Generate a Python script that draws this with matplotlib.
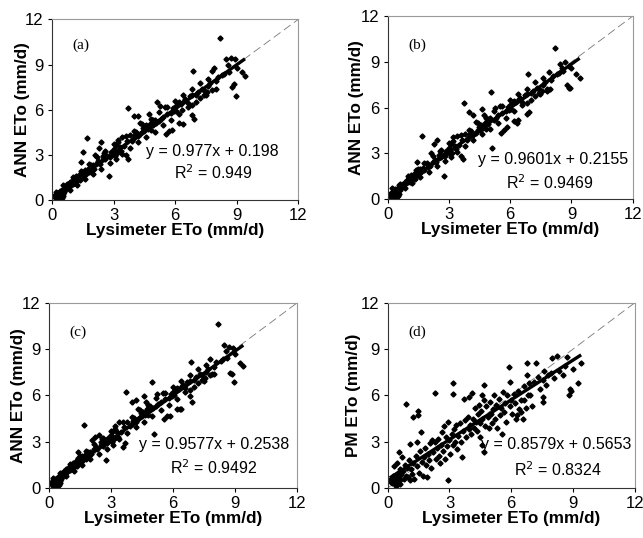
"""
plot.py
-------

Scatter comparison of ANN / PM ETo against lysimeter ETo, four panels.
"""

import numpy as np
import matplotlib
matplotlib.use("Agg")
import matplotlib.pyplot as plt


plt.rcParams["font.family"] = ["Liberation Sans", "DejaVu Sans"]

# --------------------------------------------
# Data
# --------------------------------------------

lys_x = [
    0.10, 0.15, 0.18, 0.20, 0.22, 0.25, 0.28, 0.30, 0.32, 0.35, 0.38, 0.40, 0.42,
    0.45, 0.48, 0.50, 0.52, 0.55, 0.58, 0.60, 0.62, 0.65, 0.30, 0.40, 0.20, 0.35,
    0.70, 0.75, 0.80, 0.85, 0.90, 0.95, 1.00, 1.05, 1.10, 1.15, 1.20, 1.25, 1.30,
    1.35, 1.40, 1.43, 1.45, 1.50, 1.55, 1.60, 1.65, 1.70, 1.75, 1.80, 1.90, 1.95,
    2.00, 2.05, 2.10, 2.20, 2.25, 2.30, 2.35, 2.40, 2.50, 2.55, 2.60, 2.70, 2.75,
    2.80, 2.85, 2.90, 3.00, 3.05, 3.10, 3.15, 3.20, 3.30, 3.35, 3.40, 3.50, 3.60,
    3.65, 3.70, 3.80, 3.90, 3.72,
    4.00, 4.00, 4.05, 4.10, 4.20, 4.20, 4.30, 4.30, 4.40, 4.45, 4.50, 4.55, 4.60,
    4.65, 4.70, 4.70, 4.75, 4.80, 4.85, 4.90, 5.00, 5.05, 5.10, 5.20, 5.25, 5.30,
    5.40, 5.50, 5.55, 5.60, 5.70, 5.80, 5.85, 5.90, 5.95,
    6.00, 6.05, 6.10, 6.20, 6.20, 6.30, 6.34, 6.40, 6.45, 6.50, 6.60, 6.70, 6.80,
    6.83, 6.85, 6.90, 7.00, 7.10, 7.20, 7.30, 7.40, 7.48, 7.56, 7.60, 7.70, 7.80,
    7.90, 7.97, 8.00, 6.83,
    8.10, 8.20, 8.30, 8.46, 8.55, 8.70, 8.78, 8.86, 8.90, 8.94, 9.00, 9.24, 9.40,
    8.60, 8.40,
    0.55, 0.85, 1.00, 1.20, 1.40, 1.60, 1.80, 2.00, 2.20, 2.40, 2.60, 2.80, 3.00,
    3.10, 3.20, 3.40, 3.60, 3.80, 4.00, 4.20, 4.40, 4.60, 4.80, 5.00, 5.20, 5.40,
    5.60, 5.80, 6.00, 6.20, 6.40, 6.60, 6.80, 7.00, 7.20, 7.40, 7.60, 7.80, 2.50,
    4.90,
]

ann_a = [
    0.25, 0.30, 0.12, 0.40, 0.05, 0.35, 0.15, 0.50, 0.10, 0.20, 0.60, 0.08, 0.30,
    0.45, 0.15, 0.70, 0.40, 0.25, 0.80, 0.55, 0.90, 0.65, 0.02, 0.00, 0.55, 0.42,
    0.85, 1.05, 0.90, 1.20, 1.00, 1.30, 1.10, 1.45, 1.15, 1.60, 1.30, 1.40, 1.70,
    1.35, 1.55, 2.54, 1.90, 3.20, 1.65, 2.00, 1.75, 4.10, 2.10, 1.85, 2.30, 2.00,
    2.30, 2.10, 3.00, 2.45, 2.60, 3.47, 2.40, 3.86, 2.75, 3.10, 2.70, 2.95, 1.60,
    2.85, 3.20, 3.05, 3.40, 2.90, 3.65, 3.10, 4.00, 3.55, 3.25, 4.20, 3.60, 2.98,
    3.90, 2.70, 4.30, 3.95, 6.10,
    5.60, 4.10, 4.30, 4.50, 5.60, 4.25, 5.10, 4.40, 4.55, 4.80, 4.60, 4.90, 5.00,
    4.70, 5.70, 4.85, 5.05, 4.65, 5.20, 5.00, 5.35, 5.15, 6.50, 5.25, 6.25, 5.40,
    5.55, 6.20, 4.40, 5.70, 4.60, 5.80, 4.64, 6.10, 5.90,
    6.20, 5.95, 6.30, 5.14, 6.50, 6.40, 5.96, 5.08, 6.60, 6.70, 6.45, 6.90, 6.95,
    5.63, 8.54, 5.40, 7.00, 7.20, 6.80, 7.40, 7.30, 6.95, 7.17, 7.60, 7.75, 8.60,
    8.76, 7.35, 7.90, 6.34,
    8.20, 10.77, 8.30, 9.38, 8.98, 9.43, 7.50, 7.73, 9.38, 6.90, 8.80, 8.50, 8.23,
    8.50, 8.40,
    1.00, 0.70, 1.55, 1.00, 1.95, 1.40, 2.40, 1.75, 2.85, 2.10, 3.25, 2.45, 3.70,
    2.70, 3.85, 3.05, 4.25, 3.45, 4.60, 3.85, 5.05, 4.20, 5.40, 4.55, 5.85, 5.00,
    6.15, 5.35, 6.55, 5.75, 7.00, 6.15, 7.35, 6.50, 7.75, 6.95, 8.05, 7.30, 2.95,
    5.30,
]

ann_b = [
    0.30, 0.20, 0.15, 0.45, 0.08, 0.40, 0.10, 0.55, 0.05, 0.25, 0.65, 0.12, 0.35,
    0.40, 0.20, 0.75, 0.35, 0.30, 0.85, 0.60, 1.00, 0.70, 0.05, 0.02, 0.70, 0.40,
    0.90, 1.00, 0.95, 1.15, 1.05, 1.25, 1.15, 1.40, 1.10, 1.55, 1.35, 1.45, 1.65,
    1.30, 1.60, 2.40, 1.85, 2.00, 1.70, 1.95, 1.80, 4.11, 2.05, 1.90, 2.35, 2.10,
    2.25, 2.15, 3.05, 2.40, 3.58, 2.55, 2.45, 3.85, 2.70, 3.15, 2.75, 2.90, 1.51,
    2.80, 3.15, 3.10, 3.35, 2.95, 3.60, 3.05, 4.05, 3.50, 3.30, 4.15, 3.55, 2.82,
    3.85, 2.65, 4.25, 3.90, 6.30,
    5.70, 4.05, 4.25, 4.45, 5.50, 4.20, 5.05, 4.35, 4.50, 4.75, 4.55, 4.85, 5.90,
    4.65, 5.50, 4.80, 5.00, 4.60, 5.15, 4.95, 5.30, 7.00, 3.38, 5.20, 6.00, 5.35,
    5.50, 6.10, 4.35, 5.65, 4.55, 5.75, 4.70, 6.05, 5.85,
    6.15, 5.90, 6.25, 5.10, 6.45, 6.35, 5.00, 5.20, 6.55, 6.65, 6.40, 6.85, 6.90,
    5.60, 8.20, 5.70, 6.95, 7.10, 6.75, 7.30, 7.25, 6.90, 7.10, 7.50, 7.65, 7.10,
    8.33, 7.20, 7.80, 6.30,
    8.10, 9.90, 8.20, 8.87, 8.60, 8.98, 7.45, 7.28, 8.70, 7.30, 8.60, 8.20, 7.95,
    8.40, 8.30,
    0.95, 0.75, 1.50, 1.05, 1.90, 1.45, 2.35, 1.80, 2.80, 2.15, 3.20, 2.50, 3.65,
    2.75, 3.80, 3.10, 4.20, 3.50, 4.55, 3.90, 5.00, 4.25, 5.35, 4.60, 5.80, 5.00,
    6.10, 5.35, 6.50, 5.75, 6.90, 6.15, 7.25, 6.50, 7.65, 6.95, 7.95, 7.25, 2.90,
    5.25,
]

ann_c = [
    0.35, 0.25, 0.20, 0.50, 0.10, 0.45, 0.20, 0.60, 0.15, 0.30, 0.65, 0.10, 0.40,
    0.50, 0.20, 0.80, 0.45, 0.30, 0.85, 0.60, 0.95, 0.70, 0.05, 0.02, 0.65, 0.50,
    0.95, 1.10, 0.90, 1.25, 1.05, 1.35, 1.15, 1.50, 1.20, 1.60, 1.35, 1.45, 1.75,
    1.40, 1.60, 2.30, 1.95, 2.10, 1.70, 2.05, 1.80, 4.09, 2.15, 1.90, 2.35, 2.05,
    2.35, 2.20, 3.10, 2.50, 3.30, 2.65, 2.50, 3.45, 2.80, 3.15, 2.75, 3.00, 1.79,
    2.90, 3.25, 3.10, 3.45, 2.95, 3.70, 3.15, 4.05, 3.60, 3.30, 4.25, 3.65, 2.68,
    3.95, 2.90, 4.30, 4.00, 6.25,
    5.60, 4.15, 4.35, 4.55, 5.70, 4.30, 5.15, 4.45, 4.60, 4.85, 4.65, 4.95, 5.95,
    4.75, 5.60, 4.90, 5.10, 4.70, 5.25, 5.05, 6.84, 5.20, 3.50, 5.30, 6.10, 5.45,
    5.60, 6.15, 4.45, 5.75, 4.65, 5.85, 4.67, 6.10, 5.95,
    6.20, 6.00, 6.30, 5.15, 6.50, 6.40, 5.13, 5.10, 6.60, 6.70, 6.45, 6.90, 6.95,
    5.95, 8.20, 5.60, 7.00, 7.20, 6.80, 7.40, 7.30, 6.95, 7.15, 7.55, 7.70, 8.38,
    7.40, 7.40, 7.85, 6.35,
    8.15, 10.62, 8.25, 9.28, 8.90, 9.17, 7.43, 7.40, 9.10, 6.90, 8.70, 8.13, 7.93,
    8.45, 8.35,
    1.00, 0.80, 1.55, 1.10, 1.95, 1.50, 2.40, 1.85, 2.85, 2.20, 3.25, 2.55, 3.70,
    2.80, 3.85, 3.15, 4.25, 3.55, 4.60, 3.95, 5.05, 4.30, 5.40, 4.65, 5.85, 5.05,
    6.15, 5.40, 6.55, 5.80, 6.95, 6.20, 7.30, 6.55, 7.70, 7.00, 8.00, 7.30, 2.95,
    5.30,
]

pm_x = [
    0.10, 0.15, 0.20, 0.22, 0.25, 0.28, 0.30, 0.32, 0.35, 0.38, 0.40, 0.42, 0.45,
    0.48, 0.50, 0.52, 0.55, 0.58, 0.60, 0.62, 0.65, 0.30, 0.45, 0.53, 0.70, 0.40,
    0.75, 0.80, 0.85, 0.90, 0.91, 0.95, 1.00, 1.05, 1.10, 1.10, 1.15, 1.20, 1.23,
    1.25, 1.30, 1.35, 1.40, 1.43, 1.47, 1.47, 1.50, 1.55, 1.60, 1.65, 1.70, 1.75,
    1.80, 1.85, 1.90, 1.95,
    2.00, 2.05, 2.10, 2.15, 2.20, 2.28, 2.30, 2.35, 2.40, 2.45, 2.50, 2.55, 2.60,
    2.65, 2.70, 2.75, 2.80, 2.85, 2.90, 2.93, 2.95, 3.00, 3.05, 3.10, 3.15, 3.17,
    3.17, 3.20, 3.25, 3.30, 3.35, 3.40, 3.50, 3.55, 3.61, 3.65, 3.69, 3.75, 3.80,
    3.90, 3.94, 3.95,
    4.00, 4.05, 4.10, 4.15, 4.20, 4.25, 4.30, 4.35, 4.40, 4.45, 4.50, 4.50, 4.55,
    4.58, 4.58, 4.60, 4.66, 4.66, 4.70, 4.75, 4.80, 4.85, 4.90, 4.95, 5.00, 5.05,
    5.10, 5.15, 5.20, 5.25, 5.30, 5.40, 5.45, 5.50, 5.55, 5.60, 5.65, 5.70, 5.75,
    5.80, 5.88, 5.93, 5.95,
    6.00, 6.05, 6.12, 6.20, 6.25, 6.30, 6.35, 6.40, 6.48, 6.48, 6.56, 6.60, 6.64,
    6.70, 6.77, 6.77, 6.80, 6.85, 6.93, 7.00, 7.10, 7.21, 7.30, 7.40, 7.53, 7.53,
    7.53, 7.60, 7.70, 7.80, 7.94, 7.97,
    8.10, 8.23, 8.30, 8.50, 8.60, 8.70, 8.83, 8.88, 8.91, 9.00, 9.27, 9.40,
]

pm_y = [
    0.45, 0.55, 0.35, 0.60, 0.40, 0.75, 0.30, 0.50, 0.65, 0.20, 0.45, 0.85, 0.30,
    0.55, 1.00, 0.40, 0.70, 0.25, 1.20, 0.50, 0.90, 1.40, 1.60, 2.36, 2.03, 0.15,
    1.10, 0.60, 1.50, 0.80, 5.43, 1.30, 0.70, 1.80, 2.85, 0.50, 1.20, 0.90, 4.63,
    1.60, 0.60, 2.10, 1.40, 3.00, 4.74, 5.00, 1.00, 2.40, 3.60, 1.70, 0.80, 2.00,
    2.60, 1.50, 0.70, 2.20,
    1.80, 2.90, 1.30, 3.10, 2.30, 6.18, 3.00, 1.90, 2.60, 3.20, 2.10, 1.60, 2.80,
    3.60, 2.40, 4.00, 1.90, 3.30, 2.70, 0.52, 4.30, 3.10, 2.20, 3.50, 2.80, 6.79,
    6.10, 3.80, 3.00, 4.10, 2.50, 3.40, 4.20, 3.00, 2.03, 3.70, 5.75, 4.40, 3.30,
    4.60, 5.90, 3.80,
    4.10, 3.50, 6.16, 4.50, 3.90, 5.20, 4.30, 3.70, 4.80, 5.40, 3.30, 4.20, 5.00,
    6.05, 2.80, 4.50, 6.68, 2.30, 5.70, 4.00, 5.30, 4.60, 3.90, 5.60, 4.80, 4.20,
    5.10, 6.00, 4.50, 5.40, 3.90, 5.80, 4.70, 5.20, 3.50, 6.20, 4.90, 5.50, 4.30,
    6.00, 7.87, 6.90, 5.30,
    5.70, 4.80, 6.12, 5.50, 4.50, 4.73, 6.30, 5.10, 5.71, 4.95, 4.48, 6.60, 5.73,
    5.20, 8.13, 7.35, 6.00, 6.80, 6.05, 5.30, 6.90, 8.13, 7.20, 6.40, 7.00, 5.90,
    5.60, 7.60, 6.70, 7.30, 7.45, 8.43,
    7.10, 8.56, 7.60, 7.35, 7.90, 8.50, 6.05, 6.44, 6.30, 7.70, 6.81, 8.10,
]

panel_tags = ["(a)", "(b)", "(c)", "(d)"]
y_labels = ["ANN ETo (mm/d)", "ANN ETo (mm/d)", "ANN ETo (mm/d)", "PM ETo (mm/d)"]
slopes = [0.977, 0.9601, 0.9577, 0.8579]
intercepts = [0.198, 0.2155, 0.2538, 0.5653]
eq_texts = [
    "y = 0.977x + 0.198",
    "y = 0.9601x + 0.2155",
    "y = 0.9577x + 0.2538",
    "y = 0.8579x + 0.5653",
]
r2_texts = ["R$^2$ = 0.949", "R$^2$ = 0.9469", "R$^2$ = 0.9492", "R$^2$ = 0.8324"]

ticks = [0, 3, 6, 9, 12]

# axes boxes in figure fractions [left, bottom, width, height]
boxes = [
    [0.081, 0.628, 0.383, 0.336],
    [0.603, 0.630, 0.381, 0.340],
    [0.076, 0.093, 0.386, 0.344],
    [0.603, 0.093, 0.384, 0.344],
]

eq_pos = [(7.8, 3.2), (8.1, 2.6), (8.0, 2.85), (8.2, 2.85)]
r2_pos = [(7.85, 1.8), (7.95, 1.05), (7.95, 1.3), (8.3, 1.17)]
tag_pos = [(1.0, 10.3), (1.0, 10.1), (1.0, 10.1), (1.0, 10.1)]
ylabel_x = [-0.09, -0.095, -0.094, -0.11]


def draw_panel(ax, x, y, k):

    x = np.asarray(x)
    y = np.asarray(y)

    ax.plot([0, 12], [0, 12], color="#777777", lw=0.6,
            dashes=(10, 5), zorder=1)

    ax.plot(x, y, ls="none", marker="D", ms=2.6, color="black",
            mec="black", zorder=2)

    xf = np.array([x.min(), x.max()])
    ax.plot(xf, slopes[k] * xf + intercepts[k], color="black",
            lw=2.4, solid_capstyle="butt", zorder=3)

    ax.set_xlim(0, 12)
    ax.set_ylim(0, 12)
    ax.set_xticks(ticks)
    ax.set_yticks(ticks)

    ax.tick_params(direction="out", length=3, width=0.8,
                   labelsize=12, pad=3)

    for side in ["top", "right"]:
        ax.spines[side].set_color("#999999")
    for side in ["left", "bottom"]:
        ax.spines[side].set_color("#333333")

    ax.set_xlabel("Lysimeter ETo (mm/d)", fontsize=12.3,
                  fontweight="bold", labelpad=0)
    ax.set_ylabel(y_labels[k], fontsize=12.3, fontweight="bold")
    ax.yaxis.set_label_coords(ylabel_x[k], 0.5)

    ax.text(*tag_pos[k], panel_tags[k], fontsize=11,
            family=["Liberation Serif", "DejaVu Serif"],
            ha="left", va="center")

    ax.text(*eq_pos[k], eq_texts[k], fontsize=11.5,
            ha="center", va="center")
    ax.text(*r2_pos[k], r2_texts[k], fontsize=11.5,
            ha="center", va="center")


def main():

    fig = plt.figure(figsize=(6.43, 5.38), dpi=100)

    series = [
        (lys_x, ann_a),
        (lys_x, ann_b),
        (lys_x, ann_c),
        (pm_x, pm_y),
    ]

    for k, (box, (x, y)) in enumerate(zip(boxes, series)):

        ax = fig.add_axes(box)

        draw_panel(ax, x, y, k)

    fig.savefig("out.png", dpi=100)

    plt.close(fig)


if __name__ == "__main__":
    main()
